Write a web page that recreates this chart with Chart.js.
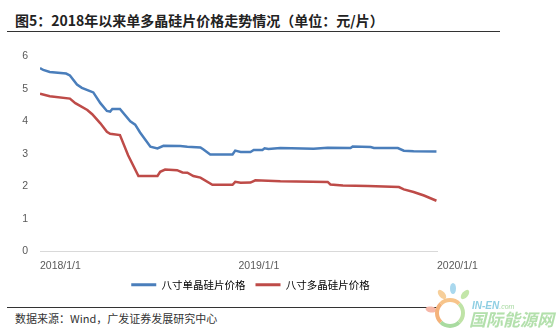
<!DOCTYPE html>
<html>
<head>
<meta charset="utf-8">
<script src="https://cdn.jsdelivr.net/npm/chart.js@4/dist/chart.umd.min.js"></script>
<style>
  html, body { margin: 0; padding: 0; background: #fff; }
  body { width: 560px; height: 334px; position: relative; overflow: hidden; font-family: "Noto Sans CJK SC", "Liberation Sans", sans-serif; }
  #title { position: absolute; left: 15px; top: 10px; font-size: 14px; line-height: 20px; font-weight: bold; color: #222; white-space: nowrap; }
  .rule { position: absolute; left: 7px; height: 0; border-top: 1.5px solid #333; }
  #src { position: absolute; left: 15px; top: 311px; font-size: 11px; line-height: 14px; color: #333; white-space: nowrap; }
  #box { position: absolute; left: 0; top: 38px; width: 500px; height: 262px; }
  .logo { position: absolute; }
  #ring { left: 435px; top: 298px; width: 22px; height: 22px; border-radius: 50%; border: 4px solid; border-color: #f7c48a #bfe3a6 #a9dba0 #f4b27a; background: #fff; }
  .petal { position: absolute; width: 6px; height: 11px; border-radius: 50%; }
  #wm1 { position: absolute; left: 472px; top: 300px; font: italic bold 10px "Liberation Sans", sans-serif; color: #8fcfe3; }
  #wm1 small { font-size: 7px; font-weight: normal; color: #a6d9a0; }
  #wm2 { position: absolute; left: 469px; top: 308px; font-size: 17px; line-height: 22px; font-weight: bold; font-style: italic; color: #b3e0ac; }
</style>
</head>
<body>
<div id="title">图5：2018年以来单多晶硅片价格走势情况（单位：元/片）</div>
<div class="rule" style="top:31px; width:493px"></div>
<div id="box"><canvas id="c"></canvas></div>
<div class="rule" style="top:307px; width:436px"></div>
<div id="src">数据来源：Wind，广发证券发展研究中心</div>
<div class="petal" style="left:450px; top:283px; background:#a9d8ee"></div>
<div class="petal" style="left:439px; top:289px; background:#f7cf9a; transform:rotate(-40deg)"></div>
<div class="petal" style="left:462px; top:289px; background:#c3e6a8; transform:rotate(40deg)"></div>
<div class="petal" style="left:428px; top:304px; background:#f6b7a8; transform:rotate(-80deg)"></div>
<div id="ring" class="logo"></div>
<div id="wm1">IN-EN<small>.com</small></div>
<div id="wm2">国际能源网</div>
<script>
// price series, yuan per wafer
const monoDates = ['2018-01-01','2018-01-07','2018-01-19','2018-02-18','2018-02-25','2018-03-10','2018-03-19','2018-04-03','2018-04-09','2018-04-22','2018-05-04','2018-05-10','2018-05-14','2018-05-28','2018-06-16','2018-06-25','2018-07-04','2018-07-23','2018-08-05','2018-08-16','2018-09-16','2018-09-29','2018-10-23','2018-10-28','2018-11-10','2018-12-21','2018-12-26','2019-01-05','2019-01-23','2019-01-29','2019-02-14','2019-02-18','2019-02-25','2019-03-19','2019-05-19','2019-06-14','2019-07-26','2019-07-30','2019-09-01','2019-09-07','2019-10-21','2019-11-01','2019-11-19','2019-12-31'];
const monoPrice = [5.64,5.58,5.52,5.47,5.41,5.13,5.03,4.93,4.89,4.56,4.32,4.30,4.38,4.38,4.00,3.90,3.66,3.22,3.17,3.25,3.24,3.22,3.20,3.14,2.98,2.98,3.10,3.06,3.06,3.12,3.12,3.17,3.15,3.18,3.16,3.19,3.18,3.23,3.21,3.18,3.18,3.10,3.08,3.07];

const polyDates = ['2018-01-01','2018-01-19','2018-02-25','2018-03-07','2018-03-29','2018-04-07','2018-04-22','2018-05-04','2018-05-10','2018-05-28','2018-06-12','2018-07-01','2018-08-05','2018-08-10','2018-08-19','2018-09-10','2018-09-20','2018-09-29','2018-10-10','2018-10-23','2018-11-14','2018-12-21','2018-12-26','2019-01-05','2019-01-23','2019-02-01','2019-03-19','2019-06-14','2019-06-19','2019-07-12','2019-08-27','2019-10-23','2019-11-01','2019-11-19','2019-12-08','2019-12-31'];
const polyPrice = [4.85,4.77,4.70,4.56,4.35,4.22,3.94,3.68,3.62,3.58,2.96,2.32,2.32,2.45,2.52,2.50,2.43,2.42,2.32,2.27,2.05,2.05,2.14,2.11,2.12,2.19,2.16,2.14,2.06,2.03,2.01,1.98,1.91,1.83,1.72,1.56];

const seriesNames = ['八寸单晶硅片价格', '八寸多晶硅片价格'];
const tickDates = ['2018-01-01', '2019-01-01', '2020-01-01'];

const ts = (s) => Date.parse(s + 'T00:00:00Z');
const pts = (dates, vals) => dates.map((d, i) => ({ x: ts(d), y: vals[i] }));
const fmtDay = (v) => { const d = new Date(v); return d.getUTCFullYear() + '/' + (d.getUTCMonth() + 1) + '/' + d.getUTCDate(); };

const line = (label, data, color) => ({
  label, data,
  borderColor: color, backgroundColor: color,
  borderWidth: 2.5, pointRadius: 0, tension: 0, fill: false
});

// legend sits a little right of the plot centre
const legendShift = {
  id: 'legendShift',
  beforeDraw(chart) {
    const lg = chart.legend;
    if (lg && !lg._shifted) { lg.left += 12; lg.right += 12; lg._shifted = true; }
  }
};

new Chart(document.getElementById('c'), {
  type: 'line',
  data: {
    datasets: [
      line(seriesNames[0], pts(monoDates, monoPrice), '#4a7ebb'),
      line(seriesNames[1], pts(polyDates, polyPrice), '#be4b48')
    ]
  },
  plugins: [legendShift],
  options: {
    responsive: true,
    maintainAspectRatio: false,
    animation: false,
    layout: { padding: { top: 17, right: 63, left: 0, bottom: 0 } },
    plugins: {
      tooltip: { enabled: false },
      legend: {
        position: 'bottom',
        fullSize: false,
        labels: {
          boxWidth: 25, boxHeight: 3, padding: 10,
          color: '#404040',
          font: { family: '"Noto Sans CJK SC"', size: 10.5 },
          generateLabels: (chart) => chart.data.datasets.map((ds, i) => ({
            text: ds.label, fillStyle: ds.borderColor, strokeStyle: ds.borderColor,
            lineWidth: 0, hidden: false, datasetIndex: i
          }))
        }
      }
    },
    scales: {
      x: {
        type: 'linear',
        min: ts(tickDates[0]),
        max: ts(tickDates[tickDates.length - 1]),
        afterBuildTicks: (s) => { s.ticks = tickDates.map(d => ({ value: ts(d) })); },
        afterFit: (s) => { s.height = 18; },
        grid: { display: false, drawTicks: false },
        border: { display: true, color: '#d9d9d9', width: 1 },
        ticks: {
          align: 'start', padding: 8, maxRotation: 0,
          color: '#595959',
          font: { family: '"Liberation Sans"', size: 10.5 },
          callback: (v) => fmtDay(v)
        }
      },
      y: {
        min: 0, max: 6,
        afterFit: (s) => { s.width = 40; },
        grid: { display: false, drawTicks: false },
        border: { display: false },
        ticks: {
          stepSize: 1, padding: 12,
          color: '#595959',
          font: { family: '"Liberation Sans"', size: 10.5 }
        }
      }
    }
  }
});
</script>
</body>
</html>
